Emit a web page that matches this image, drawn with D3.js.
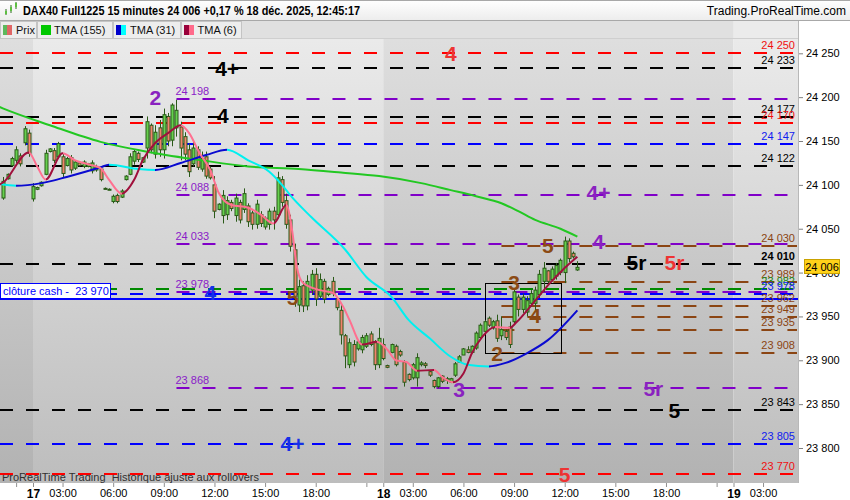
<!DOCTYPE html>
<html><head><meta charset="utf-8">
<script src="https://cdn.jsdelivr.net/npm/d3@7"></script>
<style>
body{margin:0;background:#fff;}
svg{display:block;font-family:"Liberation Sans",Arial,sans-serif;}
text{white-space:pre;}
</style>
</head><body>
<svg id="c" width="850" height="500"></svg>
<script>
// ---------------- DATA ----------------
// 15-minute candles, bar 0 = 16 Dec 20:15 ... bar 136 = 18 Dec 12:45
const candleOpen = [24085,24107,24122,24128,24133,24148,24159,24084,24095,24099,24112,24138,24139,24132,24132,24122,24131,24119,24125,24121,24121,24116,24117,24118,24096,24095,24081,24088,24086,24106,24112,24127,24136,24126,24142,24168,24135,24165,24140,24178,24151,24165,24166,24155,24140,24124,24140,24118,24132,24118,24100,24072,24065,24066,24080,24065,24080,24072,24076,24068,24055,24066,24052,24055,24070,24066,24106,24082,24060,24026,23963,23985,23962,23980,23998,23973,23990,23975,23990,23970,23957,23928,23895,23918,23913,23912,23916,23930,23920,23895,23918,23894,23909,23916,23910,23898,23884,23880,23880,23895,23896,23887,23877,23870,23882,23877,23875,23883,23898,23906,23912,23909,23914,23926,23933,23948,23937,23945,23928,23933,23938,23944,23972,23958,23955,23965,23965,23975,23990,24002,23992,23996,24000,24000,24036,24022,24003];
const candleHigh = [24109,24113,24132,24144,24136,24167,24163,24102,24098,24104,24140,24142,24142,24149,24136,24132,24134,24128,24127,24128,24125,24128,24123,24120,24097,24096,24089,24090,24095,24111,24136,24140,24138,24132,24178,24170,24168,24174,24187,24182,24193,24197,24172,24160,24147,24149,24144,24138,24138,24121,24110,24079,24094,24087,24083,24090,24083,24096,24079,24071,24083,24070,24064,24073,24075,24115,24110,24090,24066,24033,23992,23990,23997,24003,24005,23999,23993,23984,23995,23972,23965,23930,23925,23923,23923,23929,23931,23933,23923,23937,23925,23895,23919,23918,23912,23900,23885,23897,23908,23899,23898,23888,23878,23881,23883,23881,23880,23898,23906,23914,23916,23917,23933,23942,23946,23950,23946,23952,23950,23935,23944,23982,23975,23976,23973,23980,23984,24003,24012,24003,24007,24011,24016,24041,24039,24024,24013];
const candleLow = [24083,24106,24121,24125,24121,24145,24132,24081,24094,24098,24111,24137,24125,24130,24109,24121,24113,24117,24121,24119,24120,24113,24115,24104,24095,24094,24079,24079,24085,24105,24111,24123,24126,24125,24130,24136,24130,24132,24130,24144,24144,24155,24128,24128,24109,24121,24117,24115,24107,24106,24062,24071,24056,24060,24070,24058,24056,24068,24052,24049,24050,24052,24049,24049,24049,24062,24075,24050,24024,23961,23955,23955,23957,23975,23962,23971,23965,23973,23973,23957,23918,23891,23891,23893,23911,23908,23914,23916,23889,23891,23900,23891,23908,23893,23904,23870,23876,23878,23870,23893,23891,23881,23868,23868,23874,23873,23874,23881,23897,23906,23908,23908,23912,23925,23931,23938,23935,23921,23923,23923,23914,23942,23950,23954,23950,23961,23957,23971,23978,23988,23990,23992,23997,23988,24012,24016,24002];
const candleClose = [24104,24112,24130,24140,24124,24164,24136,24098,24097,24103,24136,24141,24128,24147,24113,24130,24117,24126,24122,24126,24124,24125,24121,24106,24096,24095,24087,24081,24093,24110,24132,24138,24129,24131,24172,24140,24160,24140,24180,24150,24191,24185,24142,24135,24115,24142,24120,24130,24110,24108,24070,24078,24088,24082,24073,24085,24060,24090,24058,24055,24078,24056,24062,24070,24060,24108,24080,24055,24030,23973,23984,23962,23990,23998,23970,23992,23970,23982,23976,23960,23929,23905,23920,23898,23921,23926,23928,23918,23895,23925,23902,23892,23918,23895,23906,23875,23878,23895,23903,23897,23894,23883,23870,23880,23876,23879,23879,23896,23904,23913,23909,23916,23931,23940,23944,23940,23944,23925,23935,23926,23918,23978,23958,23972,23968,23976,23980,23998,24005,23990,24004,24008,24014,24036,24016,24018,24006];

// moving averages: [bar, value]
const tma155 = [[-1,24189],[0,24187],[11,24168],[23,24149],[35,24137],[47,24128],[58,24121],[70,24118],[80,24114],[89,24110],[99,24102],[106,24094],[112,24087],[118,24079],[122,24070],[126,24060],[132,24050],[136,24041]];
const tma31 = [[-1,24101],[3,24099],[9,24102],[15,24109],[23,24120],[25,24123],[32,24118],[36,24117],[42,24125],[48,24134],[53,24140],[58,24128],[63,24115],[66,24100],[68,24088],[73,24063],[81,24026],[86,23995],[92,23972],[96,23946],[101,23925],[106,23904],[110,23895],[115,23893],[119,23897],[124,23908],[129,23923],[136,23957]];
const tma6 = [[-1,24100],[0,24103],[6,24137],[8,24121],[10,24106],[14,24136],[17,24128],[20.5,24123],[23,24119],[25,24106],[28,24090],[31,24106],[33,24128],[36,24148],[39,24159],[42,24168],[44,24159],[46.5,24136],[49,24117],[51,24091],[54,24077],[58,24074],[61,24066],[64,24056],[67,24077],[68.5,24045],[69.5,24007],[71,23988],[75,23980],[78,23977],[80.5,23961],[82,23946],[85,23918],[88.5,23921],[91,23912],[93,23900],[95.5,23898],[98,23888],[102,23889],[104,23881],[106.5,23875],[109,23885],[111,23908],[113.5,23927],[116.5,23938],[120,23937],[121.5,23943],[125.5,23965],[129.5,23988],[132.5,24003],[136,24018]];

// time axis
const tickBars   = [3, 7, 14, 26, 38, 50, 62, 74, 86, 90, 97, 109, 121, 133, 145, 157, 169, 173, 180];
const tickLabels = ["", "17", "03:00", "06:00", "09:00", "12:00", "15:00", "18:00", "", "18", "03:00", "06:00", "09:00", "12:00", "15:00", "18:00", "", "19", "03:00"];
const dayStartBars = [7, 90, 173];

// price axis
const priceTicks = [23800, 23850, 23900, 23950, 24000, 24050, 24100, 24150, 24200, 24250];

// horizontal levels
const levelValues = [24250, 24233, 24198, 24177, 24170, 24147, 24122, 24088, 24033, 24030, 24010, 23989, 23981, 23978, 23976, 23962, 23949, 23935, 23908, 23868, 23843, 23805, 23770];
const levelTexts  = ["24 250","24 233","24 198","24 177","24 170","24 147","24 122","24 088","24 033","24 030","24 010","23 989","23 982","23 978","23 978","23 962","23 949","23 935","23 908","23 868","23 843","23 805","23 770"];
const levelKinds  = ["red","black","purple","black","red","blue","black","purple","purple","brown","black","brown","green","purple","blue","brown","brown","brown","brown","purple","black","blue","red"];
const cashClose = 23970;
const lastPrice = 24006;

// wave marks
const markTexts  = ["4","4+","2","4","4+","5","4","5r","5r","3","4","5","4","2","3","5r","5","4+","5"];
const markBars   = [106,53,36,52,141,129,141,150,159,121,49,68.5,126,117,108,154,159,68.5,133];
const markValues = [24250,24233,24200,24179,24091,24031,24036,24011,24011,23989,23977,23972,23951,23908,23867,23868,23843,23805,23770];
const markKinds  = ["red","black","purple","black","purple","brown","purple","black","red","brown","blue","brown","brown","brown","purple","purple","black","blue","red"];

// rectangle (bar range, price range)
const boxBars = [114, 132];
const boxValues = [23988, 23908];

// ---------------- DRAW ----------------
const svg = d3.select("#c");
const PL = 0, PR = 798, PT = 21, PB = 483;
const x = d3.scaleLinear().domain([7, 173]).range([33, 733.5]);
const y = d3.scaleLinear().domain([23800, 24250]).range([448, 53.3]);

const lineColor = {red:"#ff0000", black:"#000000", purple:"#8000c8", blue:"#0000ff", brown:"#8b4513", green:"#008a00"};
const textColor = {red:"#f01010", black:"#000000", purple:"#8a20c8", blue:"#1020f0", brown:"#8b4513", green:"#1a8a1a"};
const markColor = {red:"#ee3333", black:"#000000", purple:"#8a22c0", blue:"#1530e8", brown:"#8b4a14"};

const defs = svg.append("defs");
function vgrad(id, c1, c2){
  const g = defs.append("linearGradient").attr("id", id).attr("x1",0).attr("y1",0).attr("x2",0).attr("y2",1);
  g.append("stop").attr("offset","0%").attr("stop-color",c1);
  g.append("stop").attr("offset","100%").attr("stop-color",c2);
}
vgrad("gLight", "#ececec", "#bdbdbd");
vgrad("gDark", "#e0e0e0", "#b2b2b2");
vgrad("gHead", "#ffffff", "#ececec");
defs.append("clipPath").attr("id","clipPlot").append("rect").attr("x",PL).attr("y",39).attr("width",PR-PL).attr("height",PB-39);

// header
svg.append("rect").attr("x",0).attr("y",0).attr("width",850).attr("height",21).attr("fill","url(#gHead)");
svg.append("line").attr("x1",0).attr("x2",850).attr("y1",0.5).attr("y2",0.5).attr("stroke","#a8a8a8");
svg.append("line").attr("x1",0).attr("x2",850).attr("y1",20.5).attr("y2",20.5).attr("stroke","#a8a8a8");
// icon
const icon = svg.append("g");
[[5,9,15,11,14],[10,5,13,7,11],[15,2,9,3,7]].forEach(d=>{
  icon.append("line").attr("x1",d[0]+1).attr("x2",d[0]+1).attr("y1",d[1]).attr("y2",d[2]).attr("stroke","#2d6a1e");
  icon.append("rect").attr("x",d[0]).attr("y",d[3]).attr("width",2).attr("height",d[4]-d[3]).attr("fill","#5cc040");
});
svg.append("text").attr("x",23).attr("y",15).attr("font-size",12).attr("font-weight","bold")
  .attr("textLength",337).attr("lengthAdjust","spacingAndGlyphs")
  .text("DAX40 Full1225 15 minutes 24 006 +0,17 % 18 déc. 2025, 12:45:17");
svg.append("text").attr("x",846).attr("y",15).attr("font-size",12).attr("text-anchor","end").text("Trading.ProRealTime.com");

// plot backgrounds (day bands)
const bandEdges = [PL].concat(dayStartBars.map(b=>x(b))).concat([PR]);
for(let k=0;k<bandEdges.length-1;k++){
  svg.append("rect").attr("x",bandEdges[k]).attr("y",PT).attr("width",bandEdges[k+1]-bandEdges[k]).attr("height",PB-PT)
    .attr("fill", k%2===0 ? "url(#gDark)" : "url(#gLight)");
}
// legend strip
svg.append("rect").attr("x",0).attr("y",PT).attr("width",x(173)).attr("height",18).attr("fill","#e0e0e0");
svg.append("rect").attr("x",x(173)).attr("y",PT).attr("width",PR-x(173)).attr("height",18).attr("fill","#ebebeb");
svg.append("line").attr("x1",0).attr("x2",PR).attr("y1",38.5).attr("y2",38.5).attr("stroke","#cfcfcf");
const legendItems = [
  {x0:0, x1:36, sw:[["#5cb85c",3,7],["#e06666",7,12]], label:"Prix", tx:16},
  {x0:37, x1:112, sw:[["#00c800",41,51]], label:"TMA (155)", tx:54},
  {x0:113, x1:180, sw:[["#0000cc",116,121],["#00ffff",121,126]], label:"TMA (31)", tx:130},
  {x0:181, x1:241, sw:[["#99003a",184,189],["#ff6b8b",189,194]], label:"TMA (6)", tx:197.5}
];
legendItems.forEach(it=>{
  svg.append("rect").attr("x",it.x0+0.5).attr("y",PT+0.5).attr("width",it.x1-it.x0).attr("height",17)
    .attr("fill","#ededed").attr("stroke","#c4c4c4");
  it.sw.forEach(s=>svg.append("rect").attr("x",s[1]).attr("y",25).attr("width",s[2]-s[1]).attr("height",10).attr("fill",s[0]));
  svg.append("text").attr("x",it.tx).attr("y",34).attr("font-size",11).attr("fill","#111").text(it.label);
});

// plot layer
const plot = svg.append("g").attr("clip-path","url(#clipPlot)");

// levels
levelValues.forEach((v,i)=>{
  const k = levelKinds[i];
  const yy = Math.round(y(v));
  const xs = k==="purple" ? x(41) : (k==="brown" ? x(118) : 0);
  plot.append("line").attr("x1",xs).attr("x2",PR-1).attr("y1",yy).attr("y2",yy)
    .attr("stroke",lineColor[k]).attr("stroke-width",2).attr("stroke-dasharray","13,13");
});
// cash close line
plot.append("line").attr("x1",0).attr("x2",PR).attr("y1",Math.round(y(cashClose))).attr("y2",Math.round(y(cashClose)))
  .attr("stroke","#0000ff").attr("stroke-width",2);

// box
plot.append("rect").attr("x",Math.round(x(boxBars[0]))+0.5).attr("y",Math.round(y(boxValues[0]))+0.5)
  .attr("width",Math.round(x(boxBars[1])-x(boxBars[0]))).attr("height",Math.round(y(boxValues[1])-y(boxValues[0])))
  .attr("fill","none").attr("stroke","#000").attr("stroke-width",1);

// candles
const cg = plot.append("g");
candleOpen.forEach((o,i)=>{
  const c = candleClose[i], h = candleHigh[i], l = candleLow[i];
  const cx = Math.round(x(i)) + 0.5;
  cg.append("line").attr("x1",cx).attr("x2",cx).attr("y1",y(h)).attr("y2",y(l)).attr("stroke","#2a5a18").attr("stroke-width",1);
  const top = y(Math.max(o,c)), bot = y(Math.min(o,c));
  cg.append("rect").attr("x",cx-1.5).attr("y",top).attr("width",3).attr("height",Math.max(1,bot-top))
    .attr("fill", c>=o ? "#66d04e" : "#f2826e").attr("stroke","#2a5a18").attr("stroke-width",1);
});

// moving averages with rising/falling colours
function maLine(data, upCol, downCol, id){
  const g = defs.append("linearGradient").attr("id",id).attr("gradientUnits","userSpaceOnUse")
    .attr("x1",0).attr("x2",PR).attr("y1",0).attr("y2",0);
  for(let k=0;k<data.length-1;k++){
    const col = data[k+1][1] >= data[k][1] ? upCol : downCol;
    g.append("stop").attr("offset", Math.max(0,x(data[k][0]))/PR).attr("stop-color",col);
    g.append("stop").attr("offset", Math.min(PR,x(data[k+1][0]))/PR).attr("stop-color",col);
  }
  const ln = d3.line().x(d=>x(d[0])).y(d=>y(d[1])).curve(d3.curveMonotoneX);
  plot.append("path").attr("d",ln(data)).attr("fill","none").attr("stroke","url(#"+id+")").attr("stroke-width",2);
}
const ln155 = d3.line().x(d=>x(d[0])).y(d=>y(d[1])).curve(d3.curveMonotoneX);
plot.append("path").attr("d",ln155(tma155)).attr("fill","none").attr("stroke","#22c822").attr("stroke-width",2);
maLine(tma31, "#0a0ad0", "#00f0f0", "g31");
maLine(tma6, "#a0103c", "#ff7090", "g6");

// level labels
levelValues.forEach((v,i)=>{
  const k = levelKinds[i];
  const yy = Math.round(y(v));
  const left = k==="purple";
  plot.append("text").attr("x", left ? x(41)-1 : 795).attr("y", yy-4)
    .attr("text-anchor", left ? "start" : "end").attr("font-size",11)
    .attr("font-weight", v===24010 ? "bold" : "normal")
    .attr("fill", textColor[k]).text(levelTexts[i]);
});

// wave marks
markTexts.forEach((t,i)=>{
  plot.append("text").attr("x",x(markBars[i])).attr("y",y(markValues[i])).attr("dy","0.36em")
    .attr("text-anchor","middle").attr("font-size",21).attr("font-weight","bold")
    .attr("fill",markColor[markKinds[i]]).text(t);
});

// cash close label box
const cy = Math.round(y(cashClose));
svg.append("rect").attr("x",0.5).attr("y",cy-15.5).attr("width",110).attr("height",15).attr("fill","#fff").attr("stroke","#0000ff");
svg.append("text").attr("x",3).attr("y",cy-4).attr("font-size",11).attr("fill","#0000ff").attr("xml:space","preserve").text("clôture cash -\u00a0 23 970");

// bottom caption
svg.append("text").attr("x",2).attr("y",481).attr("font-size",11).attr("fill","#303030").text("ProRealTime Trading\u00a0 Historique ajusté aux rollovers");
// redraw red bottom line over caption
svg.append("line").attr("x1",0).attr("x2",PR-1).attr("y1",Math.round(y(23770))).attr("y2",Math.round(y(23770)))
  .attr("stroke","#ff0000").attr("stroke-width",2).attr("stroke-dasharray","13,13").attr("opacity",0.9);

// right axis
svg.append("rect").attr("x",PR).attr("y",PT).attr("width",850-PR).attr("height",PB-PT).attr("fill","#fff");
svg.append("line").attr("x1",PR+0.5).attr("x2",PR+0.5).attr("y1",PT).attr("y2",PB).attr("stroke","#b8b8b8");
const ax = svg.append("g").attr("transform","translate("+(PR+1)+",0)")
  .call(d3.axisRight(y).tickValues(priceTicks).tickSize(4).tickPadding(3)
    .tickFormat(d=>d3.format(",")(d).replace(",", " ")));
ax.select(".domain").remove();
ax.selectAll("line").attr("stroke","#808080");
ax.selectAll("text").attr("font-size",11).attr("font-family","Liberation Sans, Arial, sans-serif").attr("fill","#000");

// last price box
const ly = y(lastPrice);
svg.append("rect").attr("x",804.5).attr("y",Math.round(ly)-7.5).attr("width",35).attr("height",14).attr("fill","#ffd21a").attr("stroke","#c9a200");
svg.append("text").attr("x",822).attr("y",Math.round(ly)+4).attr("font-size",11).attr("text-anchor","middle").attr("fill","#000").text("24 006");

// x axis
svg.append("rect").attr("x",0).attr("y",PB).attr("width",850).attr("height",500-PB).attr("fill","#fff");
const xa = svg.append("g").attr("transform","translate(0,"+PB+")")
  .call(d3.axisBottom(x).tickValues(tickBars).tickSize(4).tickPadding(2)
    .tickFormat((d,i)=>tickLabels[i]));
xa.select(".domain").remove();
xa.selectAll("line").attr("stroke","#909090");
xa.selectAll("text").attr("font-size",11).attr("font-family","Liberation Sans, Arial, sans-serif").attr("fill","#000")
  .attr("font-weight",(d,i)=>/^\d\d$/.test(tickLabels[i]) ? "bold" : "normal")
  .attr("font-size",(d,i)=>/^\d\d$/.test(tickLabels[i]) ? 12 : 11);
</script>
</body></html>
